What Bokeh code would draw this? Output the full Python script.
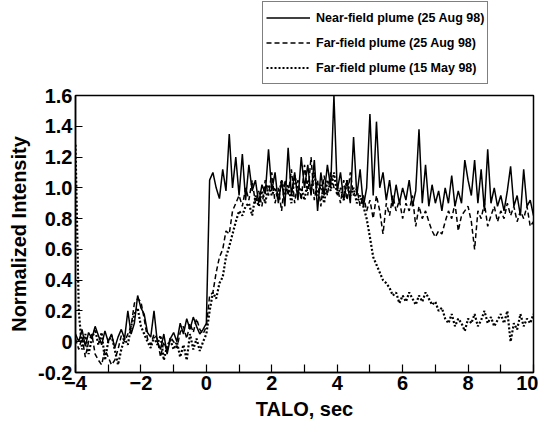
import numpy as np
from bokeh.plotting import figure
from bokeh.layouts import column
from bokeh.models import (FixedTicker, PrintfTickFormatter, Legend, LegendItem, Range1d)
from bokeh.embed import file_html
from bokeh.resources import INLINE

# time axis (TALO, sec), sampled every 0.1 s
talo = [round(-4 + 0.1 * i, 1) for i in range(141)]

near_field_aug = [
    0.05, 0.00, 0.08, -0.03, 0.06, 0.02, 0.10, 0.04, -0.02, 0.07,
    0.00, 0.05, -0.04, 0.03, 0.08, 0.02, 0.20, 0.05, 0.12, 0.30,
    0.22, 0.18, 0.06, 0.03, 0.20, 0.00, -0.05, 0.05, -0.08, 0.02,
    0.06, 0.00, 0.12, 0.05, 0.15, 0.08, 0.16, 0.10, 0.05, 0.08,
    0.12,
    1.05, 1.10, 1.00, 0.93, 1.12, 0.98, 1.35, 1.00, 1.20, 0.95,
    1.22, 0.92, 1.15, 0.98, 1.05, 0.90, 1.02, 0.96, 1.25, 0.98,
    1.10, 0.90, 1.05, 0.88, 1.26, 0.95, 1.10, 0.92, 1.20, 1.00,
    1.15, 0.95, 1.18, 0.85, 1.10, 0.95, 1.15, 1.00, 1.60, 0.98,
    1.10, 0.92, 1.05, 0.90, 1.33, 0.95, 1.12, 0.88, 1.00, 1.48,
    0.95, 1.43, 1.00, 1.10, 0.92, 1.05, 0.88, 1.02, 0.90, 1.00,
    0.92, 1.05, 0.88, 0.98, 1.38, 0.90, 1.15, 0.88, 1.02, 0.90,
    0.98, 0.85, 1.00, 0.90, 1.08, 0.88, 0.98, 0.90, 1.18, 1.05,
    0.95, 1.18, 0.90, 1.12, 0.85, 1.25, 0.90, 1.00, 0.88, 0.95,
    0.85, 0.98, 1.14, 0.88, 0.95, 0.82, 1.12, 0.88, 0.92, 0.82,
]

far_field_aug = [
    0.02, -0.05, 0.03, -0.10, 0.00, 0.05, -0.08, -0.12, -0.15, -0.05,
    -0.10, -0.15, -0.12, -0.05, 0.04, 0.00, 0.05, 0.10, 0.25, 0.28,
    0.26, 0.15, 0.02, -0.02, 0.05, 0.02, -0.10, 0.00, -0.06, 0.03,
    0.00, -0.04, 0.06, 0.10, 0.02, 0.12, 0.06, 0.15, 0.08, 0.05,
    0.10,
    0.30, 0.32, 0.45, 0.55, 0.60, 0.72, 0.70, 0.85, 0.90, 0.95,
    0.88, 1.00, 0.92, 1.05, 0.90, 0.98, 0.88, 1.05, 0.95, 1.10,
    0.90, 1.00, 0.85, 1.05, 0.95, 1.12, 0.90, 1.05, 0.92, 1.15,
    0.95, 1.20, 0.92, 1.05, 0.88, 1.08, 0.95, 1.10, 1.00, 1.02,
    0.90, 1.05, 0.92, 1.10, 0.95, 1.00, 0.88, 0.95, 0.85, 0.92,
    0.80, 0.95, 0.85, 0.70, 0.90, 0.82, 0.95, 0.85, 0.92, 0.80,
    0.90, 0.85, 0.95, 0.75, 0.88, 0.80, 0.85, 0.78, 0.72, 0.68,
    0.72, 0.70, 0.78, 0.85, 0.80, 0.90, 0.72, 0.82, 0.85, 0.88,
    0.78, 0.60, 0.85, 0.80, 0.90, 0.75, 0.82, 0.88, 0.78, 0.85,
    0.80, 0.90, 0.82, 0.88, 0.78, 0.85, 0.80, 0.88, 0.75, 0.78,
]

far_field_may = [
    1.28, 0.20, -0.05, 0.05, -0.08, 0.02, 0.08, -0.02, 0.06, -0.12,
    0.00, 0.04, -0.05, -0.15, -0.05, 0.02, -0.02, 0.10, 0.18, 0.22,
    0.10, 0.05, 0.00, -0.04, 0.03, -0.02, 0.04, -0.12, -0.03, 0.01,
    -0.05, 0.00, -0.10, -0.02, -0.12, 0.05, -0.05, 0.02, -0.06, 0.00,
    0.05,
    0.20, 0.32, 0.28, 0.38, 0.42, 0.55, 0.62, 0.70, 0.78, 0.85,
    0.82, 0.88, 0.90, 0.82, 0.95, 0.88, 0.98, 0.90, 1.02, 0.95,
    1.00, 0.92, 1.05, 0.95, 1.02, 0.90, 1.08, 0.96, 1.00, 0.92,
    1.05, 0.98, 1.10, 0.95, 1.02, 0.90, 1.05, 0.98, 1.10, 0.95,
    1.00, 0.92, 1.05, 0.95, 1.00, 0.90, 0.95, 0.88, 0.80, 0.68,
    0.55, 0.50, 0.45, 0.40, 0.38, 0.35, 0.30, 0.32, 0.25, 0.30,
    0.26, 0.32, 0.28, 0.24, 0.30, 0.26, 0.32, 0.28, 0.24, 0.26,
    0.20, 0.22, 0.15, 0.12, 0.18, 0.10, 0.15, 0.12, 0.07, 0.15,
    0.12, 0.18, 0.10, 0.14, 0.20, 0.12, 0.16, 0.10, 0.14, 0.18,
    0.12, 0.20, 0.00, 0.12, 0.08, 0.18, 0.10, 0.15, 0.12, 0.18,
]

series_labels = [
    "Near-field plume (25 Aug 98)",
    "Far-field plume (25 Aug 98)",
    "Far-field plume (15 May 98)",
]
x_ticks = [-4, -2, 0, 2, 4, 6, 8, 10]
x_minor = [-3, -1, 1, 3, 5, 7, 9]
y_ticks = [-0.2, 0, 0.2, 0.4, 0.6, 0.8, 1.0, 1.2, 1.4, 1.6]

FONT = "Liberation Sans"
STYLES = [dict(line_color="black", line_width=1.5),
          dict(line_color="black", line_width=1.5, line_dash="5 3"),
          dict(line_color="black", line_width=2.2, line_dash="2 2")]
SERIES = [near_field_aug, far_field_aug, far_field_may]

# ---- main plot ----
p = figure(width=538, height=337, output_backend="svg", toolbar_location=None,
           x_range=Range1d(-4, 10), y_range=Range1d(-0.2, 1.6),
           min_border_left=75, min_border_right=5, min_border_top=10, min_border_bottom=42)
p.grid.visible = False
p.outline_line_color = "black"
p.outline_line_width = 1.5
p.background_fill_color = "white"
p.border_fill_color = "white"

for ys, st in zip(SERIES, STYLES):
    p.line(talo, ys, **st)

xa = p.xaxis[0]
xa.ticker = FixedTicker(ticks=x_ticks, minor_ticks=x_minor)
xa.major_tick_in = 8
xa.major_tick_out = 0
xa.minor_tick_in = 8
xa.minor_tick_out = 0
xa.axis_label = "TALO, sec"

ya = p.yaxis[0]
ya.ticker = FixedTicker(ticks=y_ticks)
ya.formatter = PrintfTickFormatter(format="%.1f")
ya.major_label_overrides = {0: "0"}
ya.major_tick_in = 7
ya.major_tick_out = 0
ya.minor_tick_in = 0
ya.minor_tick_out = 0
ya.axis_label = "Normalized Intensity"

for ax in (xa, ya):
    ax.axis_line_width = 1.5
    ax.major_tick_line_width = 1.2
    ax.minor_tick_line_width = 1.2
    ax.major_label_text_font = FONT
    ax.major_label_text_font_style = "bold"
    ax.major_label_text_font_size = "20px"
    ax.major_label_text_color = "black"
    ax.axis_label_text_font = FONT
    ax.axis_label_text_font_style = "bold"
    ax.axis_label_text_font_size = "20px"
    ax.axis_label_text_color = "black"
    ax.major_label_standoff = 3
    ax.axis_label_standoff = 5

# ---- legend strip above the plot (its lines lie outside its own ranges) ----
lf = figure(width=538, height=85, output_backend="svg", toolbar_location=None,
            x_range=Range1d(100, 101), y_range=Range1d(100, 101),
            x_axis_type=None, y_axis_type=None,
            min_border_left=0, min_border_right=0, min_border_top=0, min_border_bottom=0)
lf.grid.visible = False
lf.outline_line_color = None
lf.background_fill_color = "white"
lf.border_fill_color = "white"

items = []
for lab, ys, st in zip(series_labels, SERIES, STYLES):
    r = lf.line(talo, ys, **st)
    items.append(LegendItem(label=lab, renderers=[r]))

legend = Legend(items=items, location=(187, 1))
legend.label_text_font = FONT
legend.label_text_font_style = "bold"
legend.label_text_font_size = "12.5px"
legend.label_text_color = "black"
legend.glyph_width = 44
legend.glyph_height = 25
legend.label_height = 25
legend.label_standoff = 6
legend.spacing = 0
legend.padding = 3
legend.margin = 0
legend.border_line_color = "black"
legend.border_line_width = 1.2
legend.background_fill_alpha = 1.0
lf.add_layout(legend, "center")

layout = column(lf, p, spacing=0)
open("out.html", "w").write(file_html(layout, INLINE))
